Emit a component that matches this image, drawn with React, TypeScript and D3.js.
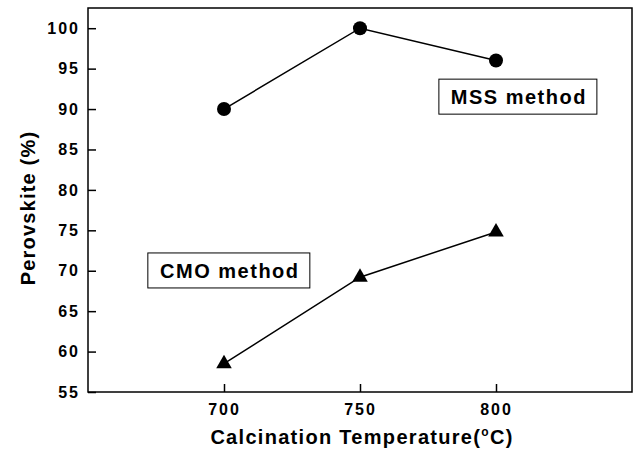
import { useEffect, useRef } from 'react'
import * as d3 from 'd3'

const temps = [700, 750, 800]
const mss = [90, 100, 96]
const cmo = [58.5, 69.2, 74.8]
const yTicks = [55, 60, 65, 70, 75, 80, 85, 90, 95, 100]
const xTicks = [700, 750, 800]

export default function App() {
  const ref = useRef<SVGSVGElement>(null)

  useEffect(() => {
    const W = 637
    const H = 452
    const margin = { top: 8, right: 5, bottom: 60, left: 88 }
    const width = W - margin.left - margin.right
    const height = H - margin.top - margin.bottom

    const root = d3.select(ref.current)
    root.selectAll('*').remove()
    const svg = root.append('g').attr('transform', `translate(${margin.left},${margin.top})`)

    const x = d3.scaleLinear().domain([650, 850]).range([0, width])
    const y = d3.scaleLinear().domain([55, 102.5]).range([height, 0])

    const font = '"Liberation Sans", Arial, sans-serif'

    // frame
    svg.append('rect')
      .attr('width', width).attr('height', height)
      .attr('fill', 'none').attr('stroke', '#000').attr('stroke-width', 1.5)

    // y axis, ticks pointing in
    svg.append('g')
      .call(d3.axisLeft(y).tickValues(yTicks).tickSizeInner(-8).tickSizeOuter(0).tickPadding(8))
      .call(g => g.select('.domain').remove())
      .call(g => g.selectAll('line').attr('stroke-width', 1.5))
      .selectAll('text')
      .style('font-family', font).style('font-weight', 'bold').style('font-size', '16px')
      .style('letter-spacing', '2px')

    // x axis
    svg.append('g')
      .attr('transform', `translate(0,${height})`)
      .call(d3.axisBottom(x).tickValues(xTicks).tickSizeInner(-8).tickSizeOuter(0).tickPadding(12))
      .call(g => g.select('.domain').remove())
      .call(g => g.selectAll('line').attr('stroke-width', 1.5))
      .selectAll('text')
      .style('font-family', font).style('font-weight', 'bold').style('font-size', '16px')
      .style('letter-spacing', '2px')

    const line = d3.line<number>().x((_, i) => x(temps[i])).y(d => y(d))

    svg.append('path').datum(mss).attr('d', line)
      .attr('fill', 'none').attr('stroke', '#000').attr('stroke-width', 1.5)
    svg.append('path').datum(cmo).attr('d', line)
      .attr('fill', 'none').attr('stroke', '#000').attr('stroke-width', 1.5)

    svg.selectAll('.dot').data(mss).join('circle')
      .attr('class', 'dot')
      .attr('cx', (_, i) => x(temps[i])).attr('cy', d => y(d)).attr('r', 7)
      .attr('fill', '#000')

    const tri = d3.symbol().type(d3.symbolTriangle).size(105)
    svg.selectAll('.tri').data(cmo).join('path')
      .attr('class', 'tri')
      .attr('transform', (d, i) => `translate(${x(temps[i])},${y(d)})`)
      .attr('d', tri())
      .attr('fill', '#000')

    // boxed labels
    const boxes = [
      { text: 'MSS method', x: x(779), y: y(93.7), w: 158 },
      { text: 'CMO method', x: x(672), y: y(72.2), w: 162 },
    ]
    boxes.forEach(b => {
      svg.append('rect')
        .attr('x', b.x).attr('y', b.y)
        .attr('width', b.w).attr('height', 35)
        .attr('fill', '#fff').attr('stroke', '#000').attr('stroke-width', 1)
      svg.append('text')
        .attr('x', b.x + b.w / 2 + 1).attr('y', b.y + 25)
        .attr('text-anchor', 'middle')
        .style('font-family', font).style('font-weight', 'bold').style('font-size', '20px')
        .style('letter-spacing', '1.5px')
        .text(b.text)
    })

    // axis titles
    svg.append('text')
      .attr('x', width / 2 + 2).attr('y', height + 52)
      .attr('text-anchor', 'middle')
      .style('font-family', font).style('font-weight', 'bold').style('font-size', '20px')
      .style('letter-spacing', '1.3px')
      .html('Calcination Temperature(<tspan dy="-8" font-size="12px">o</tspan><tspan dy="8">C)</tspan>')

    svg.append('text')
      .attr('transform', `translate(${-53},${height / 2 + 8}) rotate(-90)`)
      .attr('text-anchor', 'middle')
      .style('font-family', font).style('font-weight', 'bold').style('font-size', '20px')
      .style('letter-spacing', '1.2px')
      .text('Perovskite (%)')
  }, [])

  return (
    <svg ref={ref} width={637} height={452} style={{ position: 'absolute', left: 0, top: 0, background: '#fff' }} />
  )
}
